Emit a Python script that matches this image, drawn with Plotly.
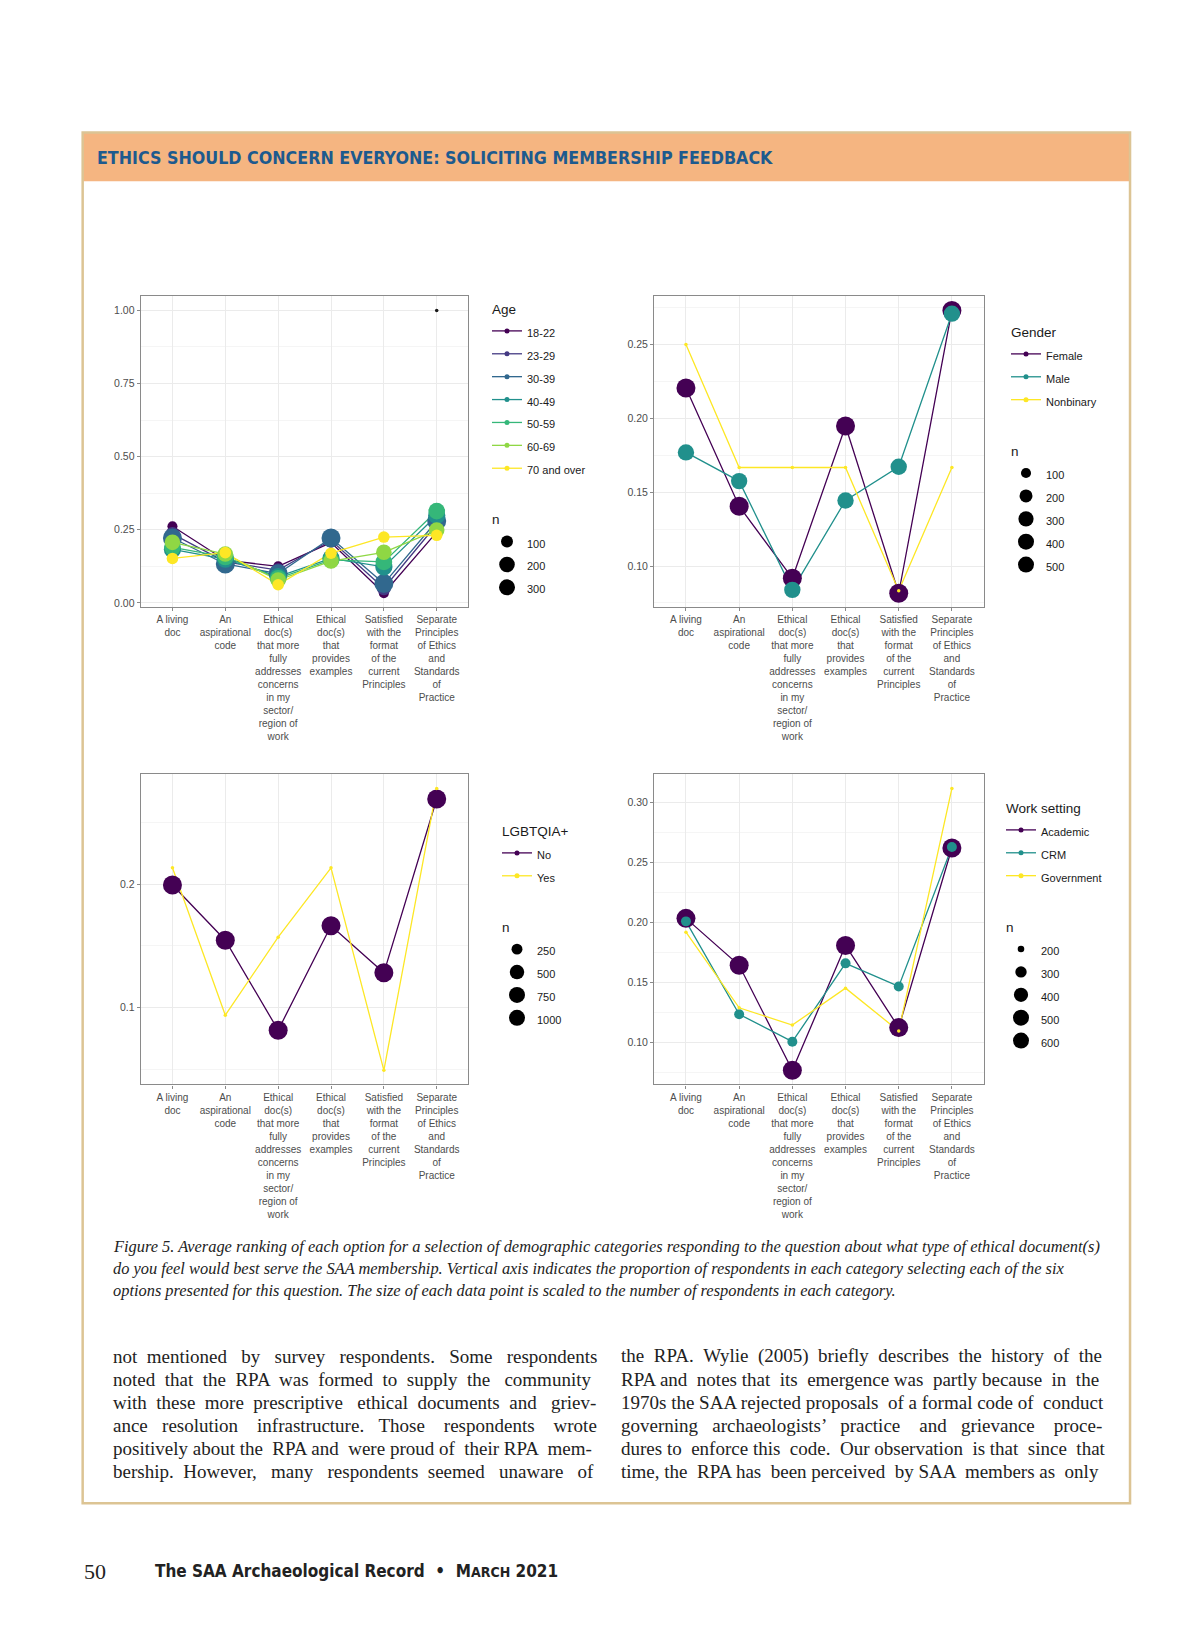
import numpy as np
import plotly.graph_objects as go

W, H = 1200, 1631

# ---------------- data ----------------
categories = [
    "A living doc",
    "An aspirational code",
    "Ethical doc(s) that more fully addresses concerns in my sector/region of work",
    "Ethical doc(s) that provides examples",
    "Satisfied with the format of the current Principles",
    "Separate Principles of Ethics and Standards of Practice",
]
tick_labels = [
    "A living<br>doc",
    "An<br>aspirational<br>code",
    "Ethical<br>doc(s)<br>that more<br>fully<br>addresses<br>concerns<br>in my<br>sector/<br>region of<br>work",
    "Ethical<br>doc(s)<br>that<br>provides<br>examples",
    "Satisfied<br>with the<br>format<br>of the<br>current<br>Principles",
    "Separate<br>Principles<br>of Ethics<br>and<br>Standards<br>of<br>Practice",
]

# Age panel
age_groups = ["18-22", "23-29", "30-39", "40-49", "50-59", "60-69", "70 and over"]
age_colors = ["#440154", "#443A83", "#31688E", "#21908C", "#35B779", "#8FD744", "#FDE725"]
age_n = [60, 150, 330, 260, 240, 200, 90]
age_18_22 = [0.262, 0.146, 0.125, 0.206, 0.033, 0.242]
age_23_29 = [0.236, 0.140, 0.112, 0.214, 0.050, 0.268]
age_30_39 = [0.222, 0.133, 0.100, 0.222, 0.066, 0.280]
age_40_49 = [0.183, 0.150, 0.090, 0.152, 0.123, 0.299]
age_50_59 = [0.190, 0.157, 0.084, 0.147, 0.140, 0.314]
age_60_69 = [0.207, 0.167, 0.078, 0.143, 0.173, 0.249]
age_70_over = [0.152, 0.172, 0.062, 0.170, 0.225, 0.231]
age_na = [None, None, None, None, None, 1.0]
age_na_n = 1
age_n_breaks = [100, 200, 300]

# Gender panel
gender_groups = ["Female", "Male", "Nonbinary"]
gender_colors = ["#440154", "#21908C", "#FDE725"]
gender_n = [520, 360, 8]
gender_female = [0.2205, 0.1405, 0.0918, 0.1948, 0.0816, 0.2730]
gender_male = [0.1769, 0.1575, 0.0839, 0.1444, 0.1672, 0.2708]
gender_nonbinary = [0.2500, 0.1667, 0.1667, 0.1667, 0.0833, 0.1667]
gender_n_breaks = [100, 200, 300, 400, 500]

# LGBTQIA+ panel
lgbt_groups = ["No", "Yes"]
lgbt_colors = ["#440154", "#FDE725"]
lgbt_n = [960, 40]
lgbt_no = [0.1995, 0.1547, 0.0816, 0.1664, 0.1282, 0.2694]
lgbt_yes = [0.2135, 0.0938, 0.1572, 0.2135, 0.0490, 0.2780]
lgbt_n_breaks = [250, 500, 750, 1000]

# Work setting panel
work_groups = ["Academic", "CRM", "Government"]
work_colors = ["#440154", "#21908C", "#FDE725"]
work_n = [640, 262, 182]
work_academic = [0.2033, 0.1643, 0.0770, 0.1808, 0.1125, 0.2618]
work_crm = [0.2008, 0.1236, 0.1008, 0.1659, 0.1467, 0.2626]
work_government = [0.1918, 0.1290, 0.1146, 0.1453, 0.1097, 0.3113]
work_n_breaks = [200, 300, 400, 500, 600]

# page text
header_title = "ETHICS SHOULD CONCERN EVERYONE: SOLICITING MEMBERSHIP FEEDBACK"
caption = [
    "Figure 5. Average ranking of each option for a selection of demographic categories responding to the question about what type of ethical document(s)",
    "do you feel would best serve the SAA membership. Vertical axis indicates the proportion of respondents in each category selecting each of the six",
    "options presented for this question. The size of each data point is scaled to the number of respondents in each category.",
]
col1 = [
    "not mentioned by survey respondents. Some respondents",
    "noted that the RPA was formed to supply the community",
    "with these more prescriptive ethical documents and griev-",
    "ance resolution infrastructure. Those respondents wrote",
    "positively about the RPA and were proud of their RPA mem-",
    "bership. However, many respondents seemed unaware of",
]
col2 = [
    "the RPA. Wylie (2005) briefly describes the history of the",
    "RPA and notes that its emergence was partly because in the",
    "1970s the SAA rejected proposals of a formal code of conduct",
    "governing archaeologists’ practice and grievance proce-",
    "dures to enforce this code. Our observation is that since that",
    "time, the RPA has been perceived by SAA members as only",
]

# ---------------- style ----------------
S = 1.037  # page scale
DMIN, DMAX = 3.5, 19.0
GRID = "#ebebeb"
MINOR = "#f5f5f5"
FRAME = "#8a8a8a"
TXT = "#4d4d4d"
SANS = "Liberation Sans, Arial, sans-serif"
SERIF = "Liberation Serif, Times New Roman, serif"
NARROW = "Liberation Sans Narrow, DejaVu Sans Condensed, Arial Narrow, sans-serif"

# Times / Liberation Serif advance widths (per 1000 em) for justification
_TW = dict(zip("abcdefghijklmnopqrstuvwxyz",
               [444, 500, 444, 500, 444, 333, 500, 500, 278, 278, 500, 278, 778,
                500, 500, 500, 500, 333, 389, 278, 500, 500, 722, 500, 500, 444]))
_TW.update(dict(zip("ABCDEFGHIJKLMNOPQRSTUVWXYZ",
                    [722, 667, 667, 722, 611, 556, 722, 722, 333, 389, 722, 611, 889,
                     722, 722, 556, 722, 667, 556, 611, 722, 722, 944, 722, 722, 611])))
_TW.update({c: 500 for c in "0123456789"})
_TW.update({" ": 250, ".": 250, ",": 250, "-": 333, "(": 333, ")": 333, "’": 333, "'": 180})


def text_w(s, size):
    return sum(_TW.get(ch, 500) for ch in s) / 1000 * size


def justify(line, target, size):
    words = line.split(" ")
    gaps = len(words) - 1
    extra = target - text_w(line, size)
    nsp = max(0, int(round(extra / (0.25 * size))))
    out = words[0]
    for i in range(gaps):
        cnt = nsp * (i + 1) // gaps - nsp * i // gaps
        out += " " + "\u00a0" * cnt + words[i + 1]
    return out


fig = go.Figure()


def px_to_x(px):
    return px / W


def px_to_y(py):
    return 1 - py / H


def sx(v):
    return px_to_x(v * S)


def sy(v):
    return px_to_y(v * S)


panels = [
    dict(k=1, box=(128, 444, 278, 578), groups=age_groups, colors=age_colors, n=age_n,
         series=[age_18_22, age_23_29, age_30_39, age_40_49, age_50_59, age_60_69, age_70_over],
         title="Age", breaks=age_n_breaks, dtick=0.25, fmt=".2f", leg=(479, 282),
         extra=(age_na, age_na_n)),
    dict(k=2, box=(623, 941, 278, 578), groups=gender_groups, colors=gender_colors, n=gender_n,
         series=[gender_female, gender_male, gender_nonbinary],
         title="Gender", breaks=gender_n_breaks, dtick=0.05, fmt=".2f", leg=(998, 305), extra=None),
    dict(k=3, box=(128, 444, 739, 1038), groups=lgbt_groups, colors=lgbt_colors, n=lgbt_n,
         series=[lgbt_no, lgbt_yes],
         title="LGBTQIA+", breaks=lgbt_n_breaks, dtick=0.1, fmt=".1f", leg=(489, 804), extra=None),
    dict(k=4, box=(623, 941, 739, 1038), groups=work_groups, colors=work_colors, n=work_n,
         series=[work_academic, work_crm, work_government],
         title="Work setting", breaks=work_n_breaks, dtick=0.05, fmt=".2f", leg=(993, 781), extra=None),
]

layout_axes = {}
for p in panels:
    k = p["k"]
    xa = "x" if k == 1 else f"x{k}"
    ya = "y" if k == 1 else f"y{k}"
    leg = "legend" if k == 1 else f"legend{k}"
    all_n = list(p["n"]) + ([p["extra"][1]] if p["extra"] else [])
    nmin, nmax = min(all_n), max(all_n)

    def sz(n, nmin=nmin, nmax=nmax):
        return DMIN + (DMAX - DMIN) * np.sqrt(max(n - nmin, 0) / (nmax - nmin))

    vals_all = [v for s in p["series"] for v in s if v is not None]
    if p["extra"]:
        vals_all += [v for v in p["extra"][0] if v is not None]
    lo, hi = min(vals_all), max(vals_all)
    pad = 0.05 * (hi - lo)

    # lines first
    for c, s in zip(p["colors"], p["series"]):
        fig.add_trace(go.Scatter(x=categories, y=s, mode="lines", line=dict(color=c, width=1.3),
                                 xaxis=xa, yaxis=ya, showlegend=False, hoverinfo="skip"))
    # points
    for c, s, n in zip(p["colors"], p["series"], p["n"]):
        fig.add_trace(go.Scatter(x=categories, y=s, mode="markers",
                                 marker=dict(color=c, size=sz(n), line=dict(width=0), opacity=1),
                                 xaxis=xa, yaxis=ya, showlegend=False))
    if p["extra"]:
        fig.add_trace(go.Scatter(x=categories, y=p["extra"][0], mode="markers",
                                 marker=dict(color="#1a1a1a", size=sz(p["extra"][1])),
                                 xaxis=xa, yaxis=ya, showlegend=False))
    # legend entries
    gt_font = dict(size=16.5, color="#1a1a1a", family=SANS)
    for g, c in zip(p["groups"], p["colors"]):
        fig.add_trace(go.Scatter(x=[None], y=[None], mode="lines+markers",
                                 name=f"<span style='font-size:11px'>{g}</span>",
                                 line=dict(color=c, width=1.3), marker=dict(color=c, size=5),
                                 legend=leg, legendgroup=f"c{k}",
                                 legendgrouptitle=dict(text=f"<span style='font-size:13.5px'>{p['title']}</span>",
                                                       font=gt_font),
                                 xaxis=xa, yaxis=ya))
    for b in p["breaks"]:
        fig.add_trace(go.Scatter(x=[None], y=[None], mode="markers",
                                 name=f"<span style='font-size:11px'>{b}</span>",
                                 marker=dict(color="black", size=sz(b)),
                                 legend=leg, legendgroup=f"n{k}",
                                 legendgrouptitle=dict(text="<span style='font-size:13.5px'>n</span>",
                                                       font=gt_font),
                                 xaxis=xa, yaxis=ya))

    x0, x1, y0, y1 = p["box"]
    xkey = "xaxis" if k == 1 else f"xaxis{k}"
    ykey = "yaxis" if k == 1 else f"yaxis{k}"
    layout_axes[xkey] = dict(
        domain=[sx(x0), sx(x1)], anchor=ya, type="category",
        categoryorder="array", categoryarray=categories, range=[-0.6, len(categories) - 0.4],
        tickvals=categories, ticktext=tick_labels, tickangle=0,
        tickfont=dict(size=10, color=TXT, family=SANS),
        showgrid=True, gridcolor=GRID, gridwidth=1, showline=True, mirror=True,
        linecolor=FRAME, linewidth=1.2, ticks="outside", ticklen=3, tickcolor=FRAME, zeroline=False,
    )
    layout_axes[ykey] = dict(
        domain=[sy(y1), sy(y0)], anchor=xa, range=[lo - pad, hi + pad],
        tick0=0, dtick=p["dtick"], tickformat=p["fmt"],
        tickfont=dict(size=10.5, color=TXT, family=SANS),
        showgrid=True, gridcolor=GRID, gridwidth=1, showline=True, mirror=True,
        linecolor=FRAME, linewidth=1.2, ticks="outside", ticklen=3, tickcolor=FRAME, zeroline=False,
        minor=dict(dtick=p["dtick"] / 2, tick0=0, showgrid=True, gridcolor=MINOR, ticks=""),
    )
    lx, ly = p["leg"]
    layout_axes[leg] = dict(
        x=px_to_x(lx), y=px_to_y(ly), xanchor="left", yanchor="top", bgcolor="rgba(0,0,0,0)",
        font=dict(size=15.3, color="#1a1a1a", family=SANS), tracegroupgap=26,
        itemsizing="trace", traceorder="grouped", itemclick=False, itemdoubleclick=False,
    )

fig.update_layout(**layout_axes)

# ---------------- page furniture ----------------
shapes = [
    dict(type="rect", xref="paper", yref="paper", x0=sx(72), x1=sx(1082),
         y0=sy(167), y1=sy(120), fillcolor="#f5b581", line=dict(width=0), layer="below"),
    dict(type="rect", xref="paper", yref="paper", x0=sx(72), x1=sx(1082),
         y0=sy(1442), y1=sy(120), fillcolor="rgba(0,0,0,0)",
         line=dict(color="#dcc494", width=2.5), layer="below"),
]


def note(text, x, y, size, family, color="#222"):
    return dict(text=text, x=x, y=y, xref="paper", yref="paper", xanchor="left", yanchor="middle",
                showarrow=False, font=dict(family=family, size=size, color=color))


annotations = [note(f"<b>{header_title}</b>", sx(84), sy(145), 17.7, NARROW, "#1d5a8e")]

for i, line in enumerate(caption):
    annotations.append(note(f"<i>{line}</i>", sx(99), sy(1194 + 21.5 * i), 16.4, SERIF))

COLW = 465 * S
body_size = min(19.0, min(COLW / text_w(l, 1.0) for l in col1 + col2) * 0.995)
for col, xs in ((col1, 99), (col2, 589)):
    for i, line in enumerate(col):
        annotations.append(note(justify(line, COLW, body_size), sx(xs), sy(1300 + 22.2 * i),
                                body_size, SERIF))

annotations.append(note("50", sx(71), sy(1508), 22, SERIF))
annotations.append(note(
    "<b>The SAA Archaeological Record  •  M<span style='font-size:14px'>ARCH</span> 2021</b>",
    sx(140), sy(1507), 17, NARROW))

fig.update_layout(
    width=W, height=H, margin=dict(l=0, r=0, t=0, b=0),
    paper_bgcolor="white", plot_bgcolor="white",
    shapes=shapes, annotations=annotations, hovermode=False,
)

fig.write_html("out.html")
